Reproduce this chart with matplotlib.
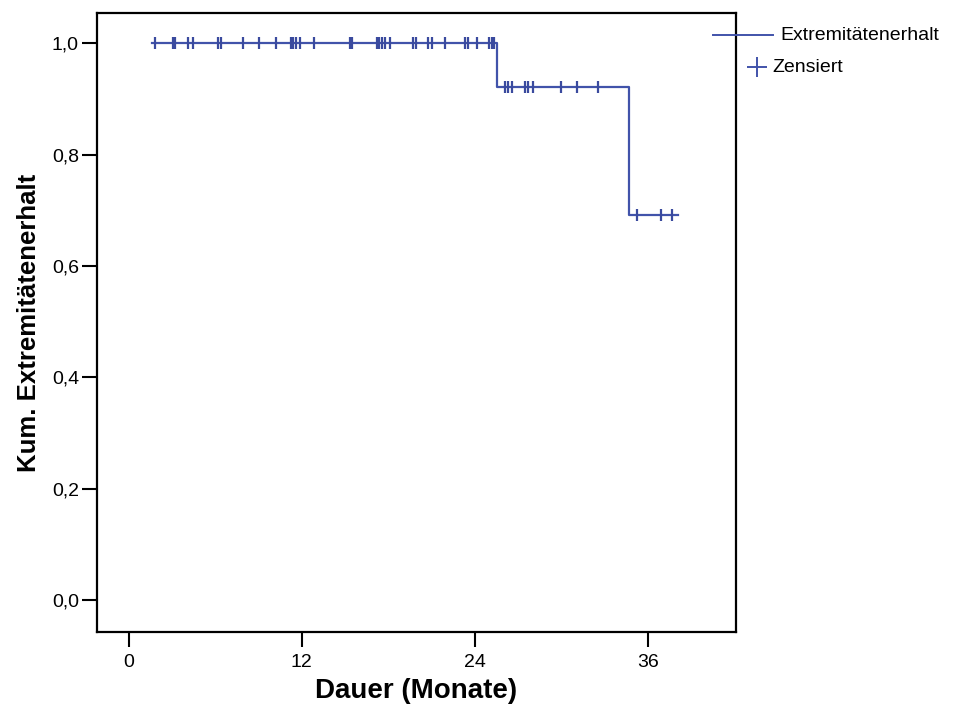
import matplotlib
matplotlib.use("Agg")
import matplotlib.pyplot as plt
from matplotlib.lines import Line2D

plt.rcParams["font.family"] = ["Liberation Sans", "DejaVu Sans"]

# Kaplan-Meier steps (months, cumulative survival)
step_times = [1.6, 25.55, 34.67, 38.1]
step_surv = [1.0, 0.922, 0.692, 0.692]

# censored observations, grouped by survival level
censor_1 = [1.85, 3.07, 3.24, 4.11, 4.46, 6.19, 6.38, 7.93, 9.02, 10.24,
            11.23, 11.39, 11.58, 11.86, 12.83, 15.33, 15.51, 17.18, 17.36,
            17.57, 17.75, 18.10, 19.72, 19.90, 20.78, 20.99, 21.91, 23.30,
            23.49, 24.11, 24.99, 25.15, 25.31]
censor_2 = [26.07, 26.30, 26.54, 27.46, 27.69, 28.04, 30.0, 31.11, 32.54]
censor_3 = [35.27, 36.89, 37.68]
censor_levels = [1.0, 0.922, 0.692]

x_ticks = [0, 12, 24, 36]
y_ticks = [0.0, 0.2, 0.4, 0.6, 0.8, 1.0]

LINE = "#4153aa"
MARK = "#3a4a9e"

fig = plt.figure(figsize=(9.54, 7.04), dpi=100)
ax = fig.add_axes([97 / 954, 1 - 632 / 704, (736 - 97) / 954, (632 - 13) / 704])

ax.step(step_times, step_surv, where="post", color=LINE, lw=1.6, zorder=3)
for times, level in zip([censor_1, censor_2, censor_3], censor_levels):
    ax.plot(times, [level] * len(times), ls="none", marker="|", ms=9,
            mew=1.6, color=MARK, zorder=4)

ax.set_xlim(-2.2, 42.1)
ax.set_ylim(-0.057, 1.054)
ax.set_xticks(x_ticks)
ax.set_yticks(y_ticks)
ax.set_yticklabels([f"{v:.1f}".replace(".", ",") for v in y_ticks])
ax.tick_params(axis="both", length=11, width=1.5, labelsize=14)
ax.tick_params(axis="y", pad=2)
ax.tick_params(axis="x", pad=5)
for sp in ax.spines.values():
    sp.set_linewidth(1.6)

ax.set_xlabel("Dauer (Monate)", fontsize=20, fontweight="bold", labelpad=5)
ax.set_ylabel("Kum. Extremitätenerhalt", fontsize=18.5, fontweight="bold", labelpad=8)

# legend drawn outside the plot box, as in SPSS output
fig.add_artist(Line2D([713 / 954, 773 / 954], [1 - 35 / 704] * 2,
                      transform=fig.transFigure, color=LINE, lw=1.4))
fig.text(780 / 954, 1 - 35 / 704, "Extremitätenerhalt", fontsize=14, va="center")
fig.add_artist(Line2D([757 / 954], [1 - 67 / 704], transform=fig.transFigure,
                      marker="+", ms=14, mew=1.4, color=LINE, ls="none"))
fig.text(772 / 954, 1 - 67 / 704, "Zensiert", fontsize=14, va="center")

fig.savefig("out.png", dpi=100)
